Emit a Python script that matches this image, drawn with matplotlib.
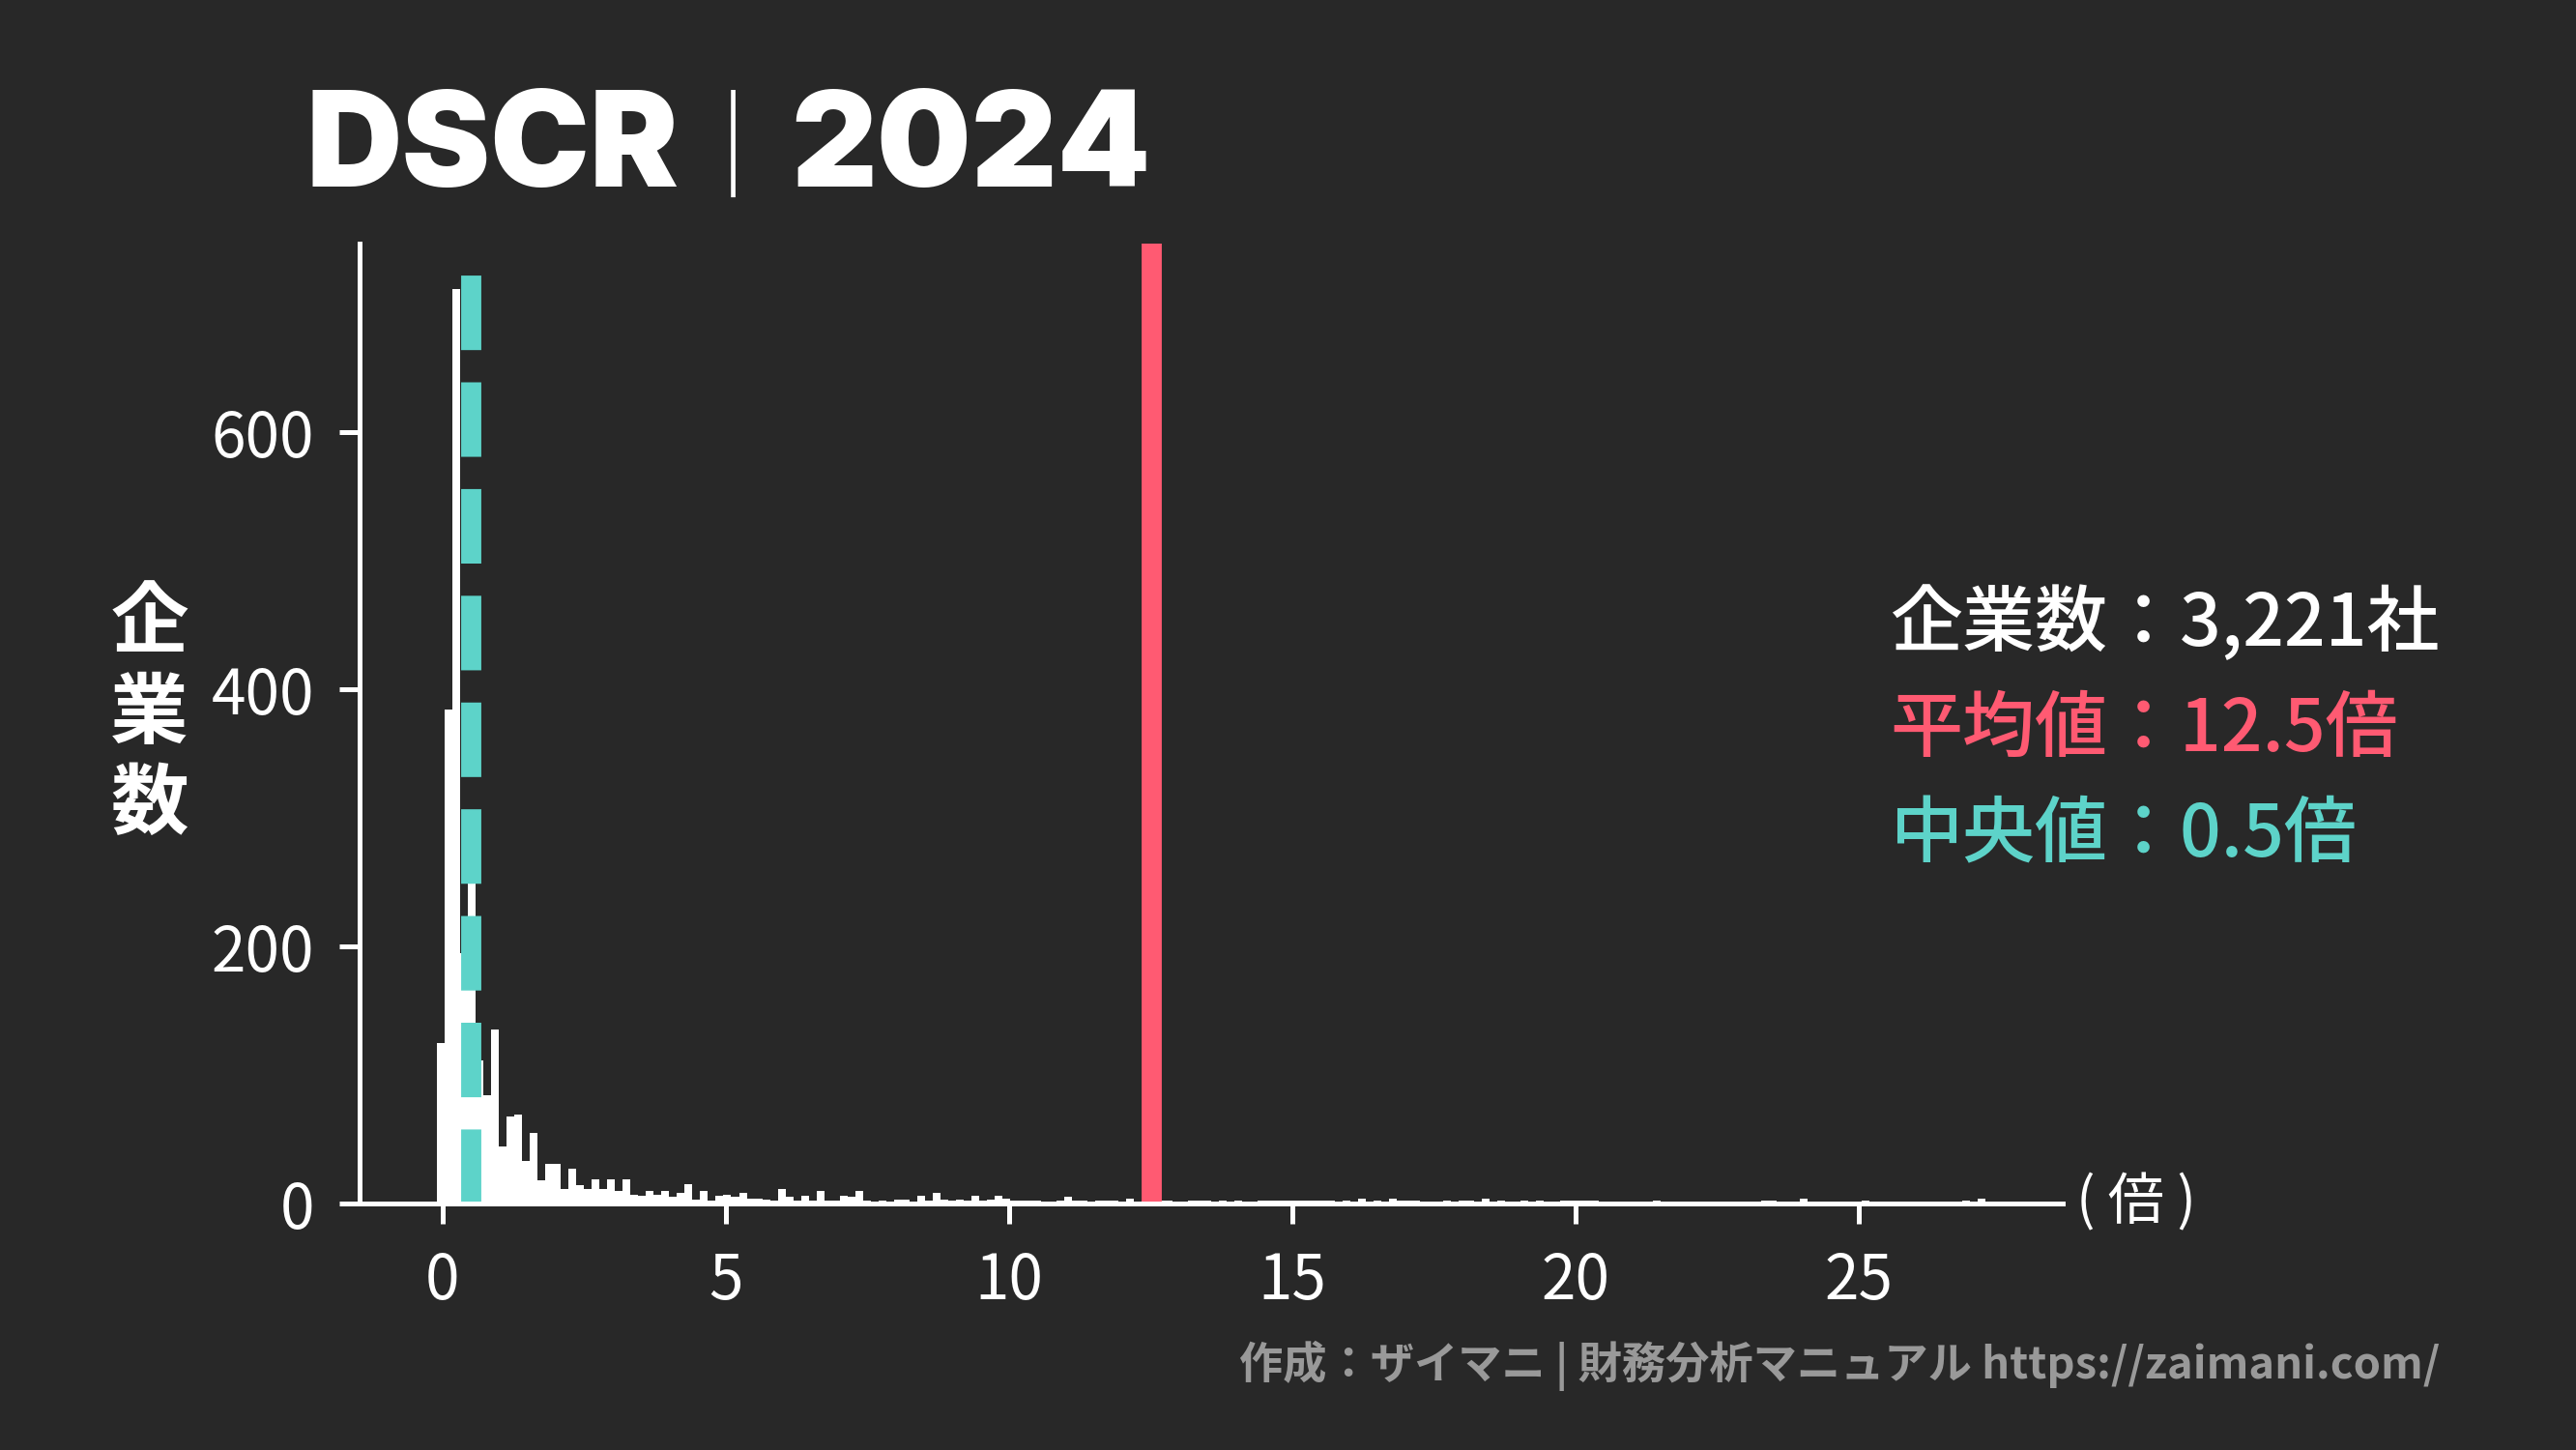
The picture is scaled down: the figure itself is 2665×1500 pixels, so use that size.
import numpy as np
import matplotlib
matplotlib.use("Agg")
import matplotlib.pyplot as plt
from matplotlib import font_manager

plt.rcParams['font.family'] = ['Noto Sans CJK JP', 'DejaVu Sans']

# DSCR histogram: 200 bins between the min and max value
dscr_min = -0.1
dscr_max = 27.23
counts_head = [
    125, 384, 711, 195, 270, 111, 84, 135, 44, 68,
    69, 33, 55, 18, 31, 31, 11, 27, 14, 11,
    19, 11, 19, 10, 19, 7, 6, 10, 7, 10,
    5, 8, 15, 3, 10, 2, 6, 7, 5, 8,
    4, 4, 3, 2, 11, 5, 2, 6, 2, 10,
    2, 2, 6, 5, 10, 2, 1, 2, 1, 3,
    3, 1, 6, 2, 8, 3, 2, 3, 2, 6,
    2, 3, 6, 4, 2, 2, 2, 2, 1, 1,
    2, 5, 2,
]
counts_tail = [
    2, 1, 2, 2, 2, 0, 4, 0, 2, 2,
    2, 2, 0, 0, 2, 2, 2, 0, 2, 0,
    2, 0, 0, 2, 2, 2, 2, 2, 2, 2,
    2, 2, 2, 0, 2, 0, 4, 0, 2, 0,
    4, 2, 2, 2, 0, 0, 0, 2, 0, 2,
    2, 0, 4, 0, 2, 0, 0, 2, 0, 2,
    0, 0, 2, 2, 2, 2, 2, 0, 0, 0,
    0, 0, 0, 0, 2, 0, 0, 0, 0, 0,
    0, 0, 0, 0, 0, 0, 0, 0, 2, 2,
    0, 0, 0, 4, 0, 0, 0, 0, 0, 0,
    0, 2, 0, 0, 0, 0, 0, 0, 0, 0,
    0, 0, 0, 0, 2, 0, 4,
]
counts = counts_head + counts_tail

n_companies = 3221
mean_val = 12.5
median_val = 0.5

bg = '#282828'
red = '#FF5A72'
teal = '#5DD3C9'

# pick a heavy sans for the title if Inter has a bold face
title_family = ['Liberation Sans', 'DejaVu Sans']
for f in font_manager.fontManager.ttflist:
    if f.name == 'Inter' and f.weight in (700, 800, 900, 'bold', 'heavy', 'black'):
        title_family = ['Inter', 'DejaVu Sans']
        break

edges = np.linspace(dscr_min, dscr_max, len(counts) + 1)
centers = (edges[:-1] + edges[1:]) / 2

fig = plt.figure(figsize=(13.325, 7.5), dpi=200, facecolor=bg)
ax = fig.add_axes([0.1396, 0.17, 0.6612, 0.662])
ax.set_facecolor(bg)

ax.hist(centers, bins=edges, weights=counts, color='white', linewidth=0, zorder=2)
ax.axvline(mean_val, color=red, linewidth=7.5, zorder=3)
ax.axvline(median_val, color=teal, linewidth=7.5, linestyle='--', zorder=3)

for s in ['top', 'right']:
    ax.spines[s].set_visible(False)
for s in ['left', 'bottom']:
    ax.spines[s].set_color('white')
    ax.spines[s].set_linewidth(1.8)
    ax.spines[s].set_zorder(4)

ax.set_xticks([0, 5, 10, 15, 20, 25])
ax.set_yticks([0, 200, 400, 600])
ax.tick_params(colors='white', labelcolor='white', length=7.5, width=1.8,
               labelsize=23, pad=9.5)

# x unit label at the end of the axis
ax.annotate('( 倍 )', xy=(1, 0), xycoords='axes fraction', xytext=(5, 0),
            textcoords='offset points', ha='left', va='center',
            color='white', fontsize=21)

# title
fig.text(0.1188, 0.871, 'DSCR', family=title_family,
         fontweight='black', fontsize=49.5, color='white', va='baseline')
fig.text(0.2845, 0.873, '｜', fontsize=40, color='white', va='baseline', ha='center')
fig.text(0.3072, 0.871, '2024', family=title_family,
         fontweight='black', fontsize=49.5, color='white', va='baseline')

# y label, stacked vertically
fig.text(0.058, 0.507, '企\n業\n数', ha='center', va='center', fontsize=29,
         fontweight='bold', color='white', linespacing=1.2)

# summary block
fig.text(0.7336, 1 - 668 / 1500, f'企業数：{n_companies:,}社', fontsize=27,
         color='white', va='baseline', fontweight='medium')
fig.text(0.7336, 1 - 777 / 1500, f'平均値：{mean_val}倍', fontsize=27,
         color=red, va='baseline', fontweight='medium')
fig.text(0.7336, 1 - 886 / 1500, f'中央値：{median_val}倍', fontsize=27,
         color=teal, va='baseline', fontweight='medium')

# footer
fig.text(0.947, 1 - 1426 / 1500, '作成：ザイマニ | 財務分析マニュアル https://zaimani.com/',
         ha='right', va='baseline', fontsize=16.3, fontweight='bold', color='#999999')

fig.savefig('out.png', dpi=200, facecolor=bg)
plt.close(fig)
